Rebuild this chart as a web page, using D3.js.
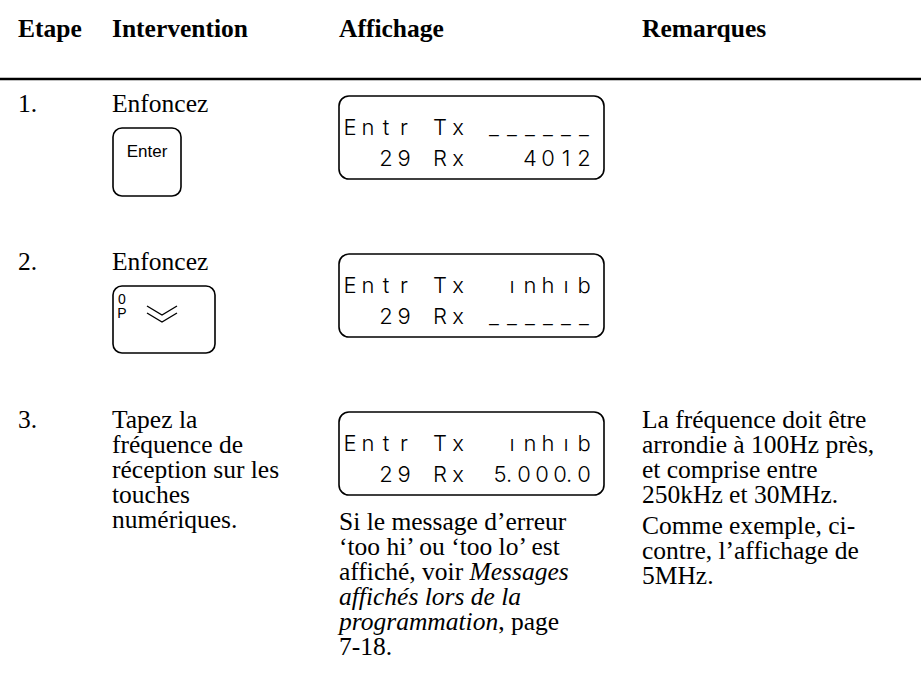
<!DOCTYPE html>
<html><head><meta charset="utf-8">
<script src="https://cdn.jsdelivr.net/npm/d3@7"></script>
<style>html,body{margin:0;padding:0;background:#fff;}svg{display:block}</style>
</head><body>
<script>
// ---- content ----
const headers = ["Etape", "Intervention", "Affichage", "Remarques"];
const steps = ["1.", "2.", "3."];
const actions = [
  ["Enfoncez"],
  ["Enfoncez"],
  ["Tapez la", "fréquence de", "réception sur les", "touches", "numériques."]
];
const keyMain = ["Enter", null];
const keyCorner = [null, ["0", "P"]];
const lcdLabels1 = ["Entr Tx", "Entr Tx", "Entr Tx"];
const lcdValues1 = ["______", "ınhıb", "ınhıb"];
const lcdLabels2 = ["  29 Rx", "  29 Rx", "  29 Rx"];
const lcdValues2 = ["4012", "______", "5.000.0"];
const noteLines = [
  [["Si le message d’erreur", false]],
  [["‘too hi’ ou ‘too lo’ est", false]],
  [["affiché, voir ", false], ["Messages", true]],
  [["affichés lors de la", true]],
  [["programmation", true], [", page", false]],
  [["7-18.", false]]
];
const remarks = [
  ["La fréquence doit être", "arrondie à 100Hz près,", "et comprise entre", "250kHz et 30MHz."],
  ["Comme exemple, ci-", "contre, l’affichage de", "5MHz."]
];

// ---- layout ----
const W = 921, H = 688;
const SERIF = "'Liberation Serif','Times New Roman',Times,serif";
const SANS = "'Liberation Sans',Arial,Helvetica,sans-serif";
const LCDF = "Inter,'DejaVu Sans',sans-serif";
const FS = 25.5, LH = 25;
const colX = d3.scaleOrdinal().domain([0,1,2,3]).range([18, 112, 339, 642]);
const rowY = d3.scaleLinear().domain([0, 1]).range([112, 270]); // baseline per row
const svg = d3.select("body").append("svg").attr("width", W).attr("height", H);
svg.append("rect").attr("width", W).attr("height", H).attr("fill", "#fff");

// header
svg.selectAll("text.hdr").data(headers).join("text").attr("class","hdr")
  .attr("x", (d,i) => colX(i)).attr("y", 37)
  .attr("font-family", SERIF).attr("font-weight", "bold").attr("font-size", FS)
  .text(d => d);
svg.append("line").attr("x1", 0).attr("x2", W).attr("y1", 79).attr("y2", 79)
  .attr("stroke", "#000").attr("stroke-width", 2.5);

// steps
svg.selectAll("text.step").data(steps).join("text").attr("class","step")
  .attr("x", colX(0)).attr("y", (d,i) => rowY(i))
  .attr("font-family", SERIF).attr("font-size", FS).text(d => d);

// actions
actions.forEach((lines, r) => {
  svg.append("g").selectAll("text").data(lines).join("text")
    .attr("x", colX(1)).attr("y", (d,k) => rowY(r) + k*LH)
    .attr("font-family", SERIF).attr("font-size", FS).text(d => d);
});

// keys
const keyW = [68, 102], keyH = [68, 67];
[0,1].forEach(r => {
  const kx = colX(1) + 1, ky = rowY(r) + 16;
  const g = svg.append("g");
  g.append("rect").attr("x", kx).attr("y", ky).attr("width", keyW[r]).attr("height", keyH[r])
    .attr("rx", 9).attr("fill", "none").attr("stroke", "#000").attr("stroke-width", 1.6);
  if (keyMain[r]) {
    g.append("text").attr("x", kx + keyW[r]/2).attr("y", ky + 29).attr("text-anchor","middle")
      .attr("font-family", SANS).attr("font-size", 17).text(keyMain[r]);
  }
  if (keyCorner[r]) {
    g.selectAll("text.c").data(keyCorner[r]).join("text").attr("class","c")
      .attr("x", kx + 9).attr("y", (d,k) => ky + 18 + k*14).attr("text-anchor","middle")
      .attr("font-family", SANS).attr("font-size", 14).text(d => d);
    const cx = kx + 34, cy = ky + 20;
    g.append("path")
      .attr("d", `M${cx},${cy} L${cx+15},${cy+9} L${cx+30},${cy} M${cx},${cy+7} L${cx+15},${cy+16} L${cx+30},${cy+7}`)
      .attr("fill","none").attr("stroke","#000").attr("stroke-width",1.4);
  }
});

// LCD displays
const lcdCols = d3.scaleBand().domain(d3.range(14)).range([341, 593]);
const pitch = lcdCols.bandwidth();
function drawLabel(g, str, y) {
  g.append("g").selectAll("text").data(Array.from(str)).join("text")
    .attr("x", (d,i) => lcdCols(i) + pitch/2).attr("y", y).attr("text-anchor","middle")
    .attr("font-family", LCDF).attr("font-weight", 300).attr("font-size", 22).text(d => d);
}
function drawValue(g, str, y) {
  const cells = [];
  for (const ch of str) {
    if (ch === "." && cells.length) cells[cells.length-1].dot = true;
    else cells.push({ch, dot:false});
  }
  let cur = lcdCols(13) + pitch/2;
  for (let k = cells.length - 1; k >= 0; k--) {
    cells[k].x = cur;
    cur -= pitch + ((k > 0 && cells[k-1].dot) ? 6 : 0);
  }
  const gg = g.append("g");
  gg.selectAll("text.v").data(cells).join("text").attr("class","v")
    .attr("x", d => d.x).attr("y", y).attr("text-anchor","middle")
    .attr("font-family", LCDF).attr("font-weight", 300).attr("font-size", 22).text(d => d.ch);
  gg.selectAll("text.dp").data(cells.filter(d => d.dot)).join("text").attr("class","dp")
    .attr("x", d => d.x + 9).attr("y", y).attr("text-anchor","middle")
    .attr("font-family", LCDF).attr("font-weight", 300).attr("font-size", 22).text(".");
}
[0,1,2].forEach(r => {
  const top = rowY(r) - 16;
  const g = svg.append("g").attr("xml:space","preserve");
  g.append("rect").attr("x", 339).attr("y", top).attr("width", 265).attr("height", 83)
    .attr("rx", 10).attr("fill","none").attr("stroke","#000").attr("stroke-width",1.6);
  drawLabel(g, lcdLabels1[r], top + 39);
  drawValue(g, lcdValues1[r], top + 39);
  drawLabel(g, lcdLabels2[r], top + 70);
  drawValue(g, lcdValues2[r], top + 70);
});

// notes under display 3
const noteTop = rowY(2) + 102;
svg.append("g").selectAll("text").data(noteLines).join("text")
  .attr("x", colX(2)).attr("y", (d,k) => noteTop + k*LH)
  .attr("font-family", SERIF).attr("font-size", FS)
  .each(function(segs) {
    d3.select(this).selectAll("tspan").data(segs).join("tspan")
      .attr("font-style", s => s[1] ? "italic" : "normal")
      .attr("xml:space","preserve")
      .text(s => s[0]);
  });

// remarks
let ry = rowY(2);
remarks.forEach((para, p) => {
  svg.append("g").selectAll("text").data(para).join("text")
    .attr("x", colX(3)).attr("y", (d,k) => ry + k*LH)
    .attr("font-family", SERIF).attr("font-size", FS).text(d => d);
  ry += para.length*LH + 6;
});
</script>
</body></html>
